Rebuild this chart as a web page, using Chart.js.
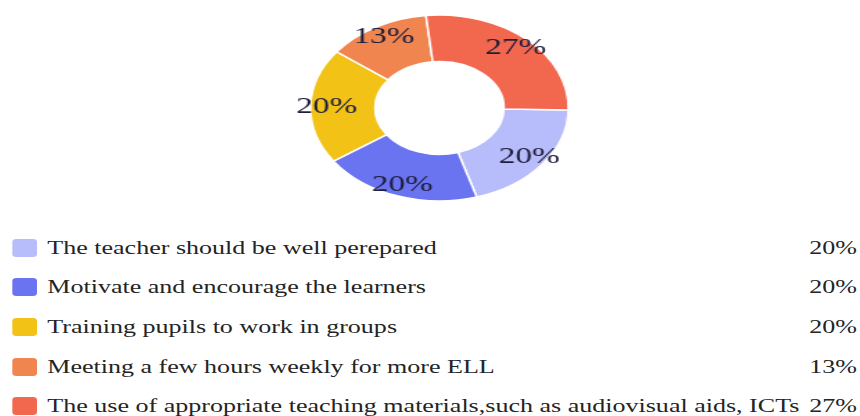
<!DOCTYPE html>
<html>
<head>
<meta charset="utf-8">
<script src="https://cdn.jsdelivr.net/npm/chart.js@4.4.1/dist/chart.umd.min.js"></script>
<style>
  html, body { margin: 0; padding: 0; background: #fff; }
  body {
    width: 860px; height: 416px; position: relative; overflow: hidden;
    font-family: "Times New Roman", Times, "Liberation Serif", Tinos, "DejaVu Serif", "Noto Serif", serif;
    color: #242424;
  }
  #pieBox {
    position: absolute; left: 272.6px; top: -2px;
    transform: scaleX(1.387); transform-origin: 0 0;
  }
  #legend {
    position: absolute; left: 0; top: 228px; width: 625.5px;
    transform: scaleX(1.37); transform-origin: 0 0;
  }
  .row { display: flex; align-items: center; height: 39.6px; font-size: 19px; }
  .sw { width: 18px; height: 18px; border-radius: 3px; margin: 0 7.5px 0 9px; flex: none; }
  .lbl { flex: 1; white-space: nowrap; }
  .pct { text-align: right; padding-left: 3px; }
</style>
</head>
<body>
<div id="pieBox"><canvas id="pie" width="240" height="220"></canvas></div>
<div id="legend"></div>
<script>
const answers = [
  'The teacher should be well perepared',
  'Motivate and encourage the learners',
  'Training pupils to work in groups',
  'Meeting a few hours weekly for more ELL',
  'The use of appropriate teaching materials,such as audiovisual aids, ICTs'
];
const shares = [20, 20, 20, 13, 27];
const sliceColors = ['#b7bcfa', '#6b74f0', '#f2c216', '#f08550', '#f2684e'];

const serifStack = '"Times New Roman", Times, "Liberation Serif", Tinos, "DejaVu Serif", "Noto Serif", serif';

// percentage text sitting on each ring segment
const sliceLabels = {
  id: 'sliceLabels',
  afterDatasetsDraw(chart) {
    const ctx = chart.ctx;
    const meta = chart.getDatasetMeta(0);
    ctx.save();
    ctx.font = '24px ' + serifStack;
    ctx.fillStyle = '#1d1d3a';
    ctx.textAlign = 'center';
    ctx.textBaseline = 'middle';
    meta.data.forEach((arc, i) => {
      const p = arc.getProps(['x', 'y', 'startAngle', 'endAngle', 'innerRadius', 'outerRadius'], true);
      const a = (p.startAngle + p.endAngle) / 2;
      const r = p.innerRadius + (p.outerRadius - p.innerRadius) * 0.75;
      ctx.fillText(shares[i] + '%', p.x + Math.cos(a) * r, p.y + Math.sin(a) * r);
    });
    ctx.restore();
  }
};

new Chart(document.getElementById('pie'), {
  type: 'doughnut',
  data: {
    labels: answers,
    datasets: [{
      data: shares,
      backgroundColor: sliceColors,
      borderColor: '#ffffff',
      borderWidth: 1.5
    }]
  },
  options: {
    responsive: false,
    animation: false,
    rotation: 91.2,
    cutout: '50%',
    radius: 93,
    plugins: { legend: { display: false }, tooltip: { enabled: false } }
  },
  plugins: [sliceLabels]
});

const legend = document.getElementById('legend');
answers.forEach((txt, i) => {
  const row = document.createElement('div');
  row.className = 'row';
  row.innerHTML = '<span class="sw" style="background:' + sliceColors[i] + '"></span>' +
    '<span class="lbl">' + txt + '</span><span class="pct">' + shares[i] + '%</span>';
  legend.appendChild(row);
});
</script>
</body>
</html>
